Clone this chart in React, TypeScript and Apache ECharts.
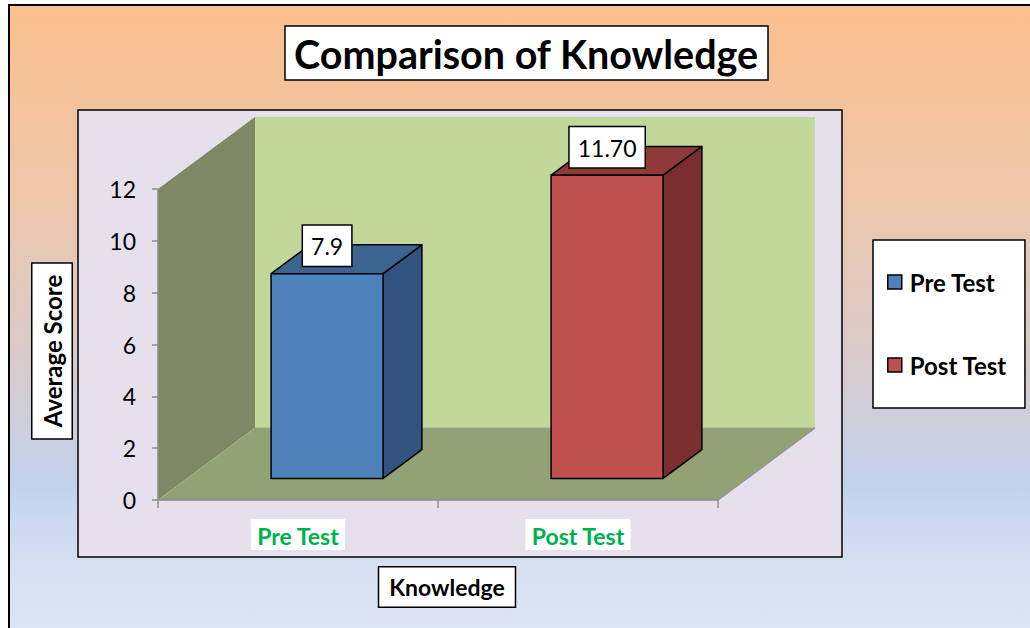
import React, { useEffect, useRef } from "react";
import * as echarts from "echarts";

const categories = ["Pre Test", "Post Test"];
const seriesNames = ["Pre Test", "Post Test"];
const preTest = [7.9];
const postTest = [11.7];
const valueLabels = ["7.9", "11.70"];
const yMin = 0;
const yMax = 12;
const yInterval = 2;

const DX = 97;
const DY = -72;
const FONT = "Lato, 'Noto Sans', sans-serif";

const faceColors = [
  { front: "#4F81BD", top: "#3C6491", side: "#32537F" },
  { front: "#C0504D", top: "#8E3A38", side: "#7A2E2E" },
];

function barRender(seriesIdx: number) {
  return (params: any, api: any) => {
    const cat = api.value(0);
    const v = api.value(1);
    const base = api.coord([cat, 0]);
    const topP = api.coord([cat, v]);
    const band = api.size([1, 0])[0];
    const w = band * 0.4;
    const fx = DX * 0.3;
    const fy = DY * 0.3;
    const ddx = DX * 0.4;
    const ddy = DY * 0.4;
    const x0 = base[0] - w / 2 + fx;
    const x1 = x0 + w;
    const yb = base[1] + fy;
    const yt = topP[1] + fy;
    const c = faceColors[seriesIdx];
    const stroke = { stroke: "#000", lineWidth: 1.5, lineJoin: "round" };
    return {
      type: "group",
      children: [
        {
          type: "polygon",
          shape: { points: [[x1, yt], [x1 + ddx, yt + ddy], [x1 + ddx, yb + ddy], [x1, yb]] },
          style: { fill: c.side, ...stroke },
        },
        {
          type: "polygon",
          shape: { points: [[x0, yt], [x0 + ddx, yt + ddy], [x1 + ddx, yt + ddy], [x1, yt]] },
          style: { fill: c.top, ...stroke },
        },
        {
          type: "polygon",
          shape: { points: [[x0, yt], [x1, yt], [x1, yb], [x0, yb]] },
          style: { fill: c.front, ...stroke },
        },
        {
          type: "text",
          x: x0 + w / 2,
          y: yt - 8,
          style: {
            text: valueLabels[cat],
            fontFamily: FONT,
            fontSize: 23,
            fill: "#000",
            align: "center",
            verticalAlign: "bottom",
            backgroundColor: "#fff",
            borderColor: "#000",
            borderWidth: 1.5,
            padding: [9, 8, 8, 8],
          },
        },
      ],
    };
  };
}

function wallRender(params: any, api: any) {
  const band = api.size([1, 0])[0];
  const c0 = api.coord([0, yMin]);
  const cTop = api.coord([0, yMax]);
  const left = c0[0] - band / 2;
  const right = left + band * categories.length;
  const bottom = c0[1];
  const top = cTop[1];
  return {
    type: "group",
    children: [
      {
        type: "polygon",
        shape: { points: [[left + DX, top + DY], [right + DX, top + DY], [right + DX, bottom + DY], [left + DX, bottom + DY]] },
        style: { fill: "#C4D79B" },
      },
      {
        type: "polygon",
        shape: { points: [[left, top], [left + DX, top + DY], [left + DX, bottom + DY], [left, bottom]] },
        style: { fill: "#7F8864" },
      },
      {
        type: "polygon",
        shape: { points: [[left, bottom], [left + DX, bottom + DY], [right + DX, bottom + DY], [right, bottom]] },
        style: { fill: "#93A274" },
      },
      {
        type: "polyline",
        shape: { points: [[left, bottom], [left + DX, bottom + DY], [right + DX, bottom + DY], [right, bottom]] },
        style: { stroke: "#A3AD8A", lineWidth: 1, fill: null },
      },
      {
        type: "line",
        shape: { x1: right + DX, y1: bottom + DY, x2: right, y2: bottom },
        style: { stroke: "#959595", lineWidth: 1.5 },
      },
    ],
  };
}

export default function App() {
  const ref = useRef<HTMLDivElement>(null);
  useEffect(() => {
    if (!ref.current) return;
    const chart = echarts.init(ref.current, undefined, { renderer: "svg" });
    chart.setOption({
      animation: false,
      backgroundColor: "#fff",
      title: {
        text: "Comparison of Knowledge",
        left: 285,
        top: 26,
        padding: [7, 9, 7, 9],
        backgroundColor: "#fff",
        borderColor: "#000",
        borderWidth: 1.5,
        textStyle: { fontFamily: FONT, fontSize: 39.5, fontWeight: "bold", color: "#000" },
      },
      legend: {
        data: seriesNames,
        orient: "vertical",
        left: 873,
        top: 240,
        padding: [30, 18, 31, 14],
        itemGap: 59,
        itemWidth: 14,
        itemHeight: 14,
        icon: "rect",
        backgroundColor: "#fff",
        borderColor: "#000",
        borderWidth: 1.5,
        itemStyle: { borderColor: "#000", borderWidth: 1.5 },
        textStyle: { fontFamily: FONT, fontSize: 24, fontWeight: "bold", color: "#000", padding: [0, 0, 0, 3] },
      },
      graphic: [
        {
          type: "rect",
          z: -10,
          shape: { x: 9, y: 5, width: 1040, height: 640 },
          style: {
            stroke: "#000",
            lineWidth: 2,
            fill: new echarts.graphic.LinearGradient(0, 0, 0, 1, [
              { offset: 0, color: "#FBC08D" },
              { offset: 0.3, color: "#EDC6AA" },
              { offset: 0.55, color: "#D8CACB" },
              { offset: 0.75, color: "#C3D2EC" },
              { offset: 0.88, color: "#D6E0F2" },
              { offset: 1, color: "#DEE6F3" },
            ]),
          },
        },
        {
          type: "rect",
          z: -9,
          shape: { x: 78, y: 110, width: 764, height: 447 },
          style: { fill: "#E5E0EC", stroke: "#000", lineWidth: 1.5 },
        },
        {
          type: "text",
          z: 10,
          x: 52,
          y: 351,
          rotation: Math.PI / 2,
          style: {
            text: "Average Score",
            fontFamily: FONT,
            fontSize: 24,
            fontWeight: "bold",
            fill: "#000",
            align: "center",
            verticalAlign: "middle",
            backgroundColor: "#fff",
            borderColor: "#000",
            borderWidth: 1.5,
            padding: [8, 11, 7, 11],
          },
        },
        {
          type: "text",
          z: 10,
          x: 447,
          y: 587,
          style: {
            text: "Knowledge",
            fontFamily: FONT,
            fontSize: 23,
            fontWeight: "bold",
            fill: "#000",
            align: "center",
            verticalAlign: "middle",
            backgroundColor: "#fff",
            borderColor: "#000",
            borderWidth: 1.5,
            padding: [9, 10, 7, 10],
          },
        },
      ],
      grid: { left: 158, top: 189, width: 560, height: 311, containLabel: false },
      xAxis: {
        type: "category",
        data: categories,
        z: 5,
        axisLine: { show: true, lineStyle: { color: "#8C8C8C", width: 1.5 } },
        axisTick: { show: true, length: 8, lineStyle: { color: "#8C8C8C", width: 1.5 } },
        axisLabel: {
          margin: 19,
          fontFamily: FONT,
          fontSize: 23,
          fontWeight: "bold",
          color: "#00B050",
          backgroundColor: "#fff",
          padding: [5, 6, 3, 6],
        },
        splitLine: { show: false },
      },
      yAxis: {
        type: "value",
        min: yMin,
        max: yMax,
        interval: yInterval,
        z: 5,
        axisLine: { show: true, lineStyle: { color: "#8C8C8C", width: 1.5 } },
        axisTick: { show: true, length: 6, lineStyle: { color: "#8C8C8C", width: 1.5 } },
        axisLabel: { margin: 22, fontFamily: FONT, fontSize: 23, color: "#000" },
        splitLine: { show: false },
      },
      series: [
        {
          type: "custom",
          name: "walls",
          z: 1,
          silent: true,
          renderItem: wallRender,
          data: [[0, 0]],
          encode: { x: 0, y: 1 },
        },
        {
          type: "custom",
          name: seriesNames[0],
          z: 3,
          itemStyle: { color: faceColors[0].front },
          renderItem: barRender(0),
          data: preTest.map((v) => [0, v]),
          encode: { x: 0, y: 1 },
        },
        {
          type: "custom",
          name: seriesNames[1],
          z: 3,
          itemStyle: { color: faceColors[1].front },
          renderItem: barRender(1),
          data: postTest.map((v) => [1, v]),
          encode: { x: 0, y: 1 },
        },
      ],
    });
    return () => chart.dispose();
  }, []);
  return (
    <div
      ref={ref}
      style={{ position: "absolute", left: 0, top: 0, width: 1030, height: 628 }}
    />
  );
}
